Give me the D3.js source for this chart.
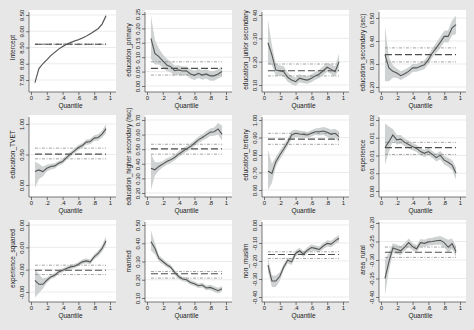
<!DOCTYPE html>
<html><head><meta charset="utf-8">
<script src="https://cdn.jsdelivr.net/npm/d3@7"></script>
<style>body{margin:0;background:#fff}svg{display:block;font-family:"Liberation Sans",Arial,sans-serif}</style>
</head><body><svg id="c" width="474" height="330"></svg>
<script>
// ---------- DATA ----------
const quantiles = [0.05,0.10,0.15,0.20,0.25,0.30,0.35,0.40,0.45,0.50,0.55,0.60,0.65,0.70,0.75,0.80,0.85,0.90,0.95];
const xTicks = [0,0.2,0.4,0.6,0.8,1];
const xTickLabels = ["0",".2",".4",".6",".8","1"];
const variableNames = ["Intercept","education_primary","education_junior secondary","education_secondary (sec)",
  "education_TVET","education_higher secondary (hsc)","education_tertiary","experience",
  "experience_squared","married","non_muslim","area_rural"];

const intercept_coef = [7.42,7.85,8.00,8.12,8.25,8.35,8.45,8.53,8.60,8.65,8.70,8.74,8.79,8.85,8.92,9.00,9.08,9.22,9.48];
const intercept_lo   = [7.38,7.82,7.98,8.10,8.23,8.33,8.43,8.51,8.58,8.63,8.68,8.72,8.77,8.83,8.90,8.98,9.05,9.19,9.43];
const intercept_hi   = [7.46,7.88,8.02,8.14,8.27,8.37,8.47,8.55,8.62,8.67,8.72,8.76,8.81,8.87,8.94,9.02,9.11,9.25,9.53];
const intercept_ols  = [8.60,8.59,8.61];
const intercept_ticks = [7.5,8.0,8.5,9.0,9.5];

const primary_coef = [0.165,0.113,0.102,0.087,0.073,0.067,0.053,0.056,0.052,0.053,0.042,0.037,0.044,0.038,0.042,0.035,0.035,0.042,0.050];
const primary_hi   = [0.245,0.160,0.130,0.110,0.095,0.085,0.070,0.072,0.068,0.068,0.058,0.053,0.060,0.055,0.058,0.052,0.052,0.058,0.068];
const primary_lo   = [0.095,0.075,0.075,0.064,0.052,0.048,0.036,0.040,0.036,0.037,0.026,0.021,0.028,0.022,0.026,0.018,0.018,0.026,0.032];
const primary_ols  = [0.061,0.038,0.084];
const primary_ticks = [0,0.05,0.10,0.15,0.20,0.25];

const junior_coef = [0.281,0.229,0.164,0.161,0.157,0.133,0.121,0.114,0.129,0.124,0.121,0.129,0.139,0.147,0.161,0.176,0.167,0.157,0.200];
const junior_hi   = [0.380,0.270,0.190,0.185,0.180,0.152,0.140,0.132,0.146,0.140,0.138,0.146,0.156,0.165,0.180,0.195,0.188,0.180,0.235];
const junior_lo   = [0.190,0.185,0.140,0.140,0.136,0.114,0.103,0.097,0.112,0.108,0.105,0.112,0.122,0.130,0.142,0.157,0.147,0.135,0.170];
const junior_ols  = [0.161,0.139,0.190];
const junior_ticks = [0.10,0.20,0.30,0.40];

const secondary_coef = [0.341,0.283,0.268,0.261,0.249,0.258,0.268,0.283,0.283,0.290,0.297,0.319,0.348,0.370,0.394,0.420,0.420,0.457,0.471];
const secondary_hi   = [0.464,0.330,0.295,0.280,0.268,0.276,0.286,0.300,0.300,0.308,0.316,0.338,0.368,0.392,0.418,0.445,0.447,0.490,0.510];
const secondary_lo   = [0.225,0.225,0.240,0.240,0.230,0.240,0.250,0.265,0.266,0.272,0.278,0.300,0.328,0.348,0.370,0.395,0.393,0.424,0.430];
const secondary_ols  = [0.341,0.309,0.370];
const secondary_ticks = [0.20,0.30,0.40,0.50];

const tvet_coef = [0.220,0.247,0.220,0.275,0.302,0.313,0.357,0.385,0.450,0.505,0.560,0.615,0.648,0.703,0.714,0.769,0.780,0.835,0.923];
const tvet_hi   = [0.380,0.350,0.300,0.330,0.350,0.355,0.395,0.425,0.490,0.545,0.600,0.655,0.690,0.745,0.760,0.815,0.830,0.890,1.000];
const tvet_lo   = [-0.050,0.100,0.140,0.220,0.255,0.270,0.320,0.345,0.410,0.465,0.520,0.575,0.605,0.660,0.670,0.720,0.730,0.780,0.850];
const tvet_ols  = [0.505,0.429,0.604];
const tvet_ticks = [0,0.5,1.0];

const hsc_coef = [0.370,0.359,0.382,0.398,0.416,0.427,0.443,0.466,0.484,0.502,0.518,0.541,0.564,0.580,0.598,0.616,0.620,0.639,0.602];
const hsc_hi   = [0.470,0.410,0.410,0.420,0.438,0.448,0.463,0.486,0.504,0.522,0.538,0.562,0.585,0.602,0.622,0.642,0.648,0.680,0.660];
const hsc_lo   = [0.220,0.320,0.352,0.376,0.394,0.406,0.423,0.446,0.464,0.482,0.498,0.520,0.543,0.558,0.574,0.590,0.592,0.600,0.560];
const hsc_ols  = [0.502,0.466,0.534];
const hsc_ticks = [0.20,0.30,0.40,0.50,0.60,0.70];

const tertiary_coef = [0.709,0.695,0.762,0.800,0.834,0.872,0.914,0.924,0.920,0.918,0.914,0.924,0.933,0.933,0.937,0.930,0.918,0.924,0.905];
const tertiary_hi   = [0.830,0.750,0.790,0.825,0.858,0.895,0.938,0.945,0.940,0.936,0.932,0.942,0.952,0.954,0.960,0.955,0.945,0.950,0.935];
const tertiary_lo   = [0.600,0.640,0.735,0.775,0.810,0.850,0.890,0.902,0.900,0.900,0.896,0.906,0.914,0.912,0.914,0.905,0.890,0.897,0.875];
const tertiary_ols  = [0.891,0.861,0.924];
const tertiary_ticks = [0.60,0.70,0.80,0.90,1.00];

const experience_coef = [0.0122,0.0139,0.0158,0.0144,0.0146,0.0137,0.0131,0.0125,0.0120,0.0111,0.0106,0.0111,0.0103,0.0094,0.0101,0.0087,0.0081,0.0073,0.0050];
const experience_hi   = [0.0190,0.0182,0.0175,0.0158,0.0158,0.0148,0.0142,0.0135,0.0130,0.0121,0.0116,0.0121,0.0113,0.0105,0.0113,0.0099,0.0094,0.0087,0.0066];
const experience_lo   = [0.0075,0.0110,0.0142,0.0130,0.0134,0.0126,0.0120,0.0115,0.0110,0.0101,0.0096,0.0101,0.0093,0.0083,0.0089,0.0075,0.0068,0.0059,0.0032];
const experience_ols  = [0.0122,0.0103,0.0137];
const experience_ticks = [0,0.005,0.010,0.015,0.020];

const expsq_coef = [-0.000295,-0.000331,-0.000331,-0.000295,-0.000265,-0.000250,-0.000220,-0.000205,-0.000190,-0.000175,-0.000169,-0.000151,-0.000130,-0.000121,-0.000130,-0.000085,-0.000055,-0.000010,0.000059];
const expsq_hi   = [-0.000190,-0.000240,-0.000280,-0.000270,-0.000245,-0.000230,-0.000202,-0.000187,-0.000172,-0.000157,-0.000150,-0.000132,-0.000110,-0.000100,-0.000108,-0.000063,-0.000030,0.000020,0.000100];
const expsq_lo   = [-0.000450,-0.000410,-0.000370,-0.000320,-0.000285,-0.000270,-0.000238,-0.000223,-0.000208,-0.000193,-0.000188,-0.000170,-0.000150,-0.000142,-0.000152,-0.000107,-0.000080,-0.000040,0.000020];
const expsq_ols  = [-0.000205,-0.000244,-0.000160];
const expsq_ticks = [-0.0004,-0.0002,0,0.0002];

const married_coef = [0.409,0.373,0.318,0.300,0.282,0.269,0.240,0.218,0.204,0.200,0.185,0.178,0.167,0.171,0.155,0.158,0.149,0.140,0.151];
const married_hi   = [0.470,0.400,0.335,0.315,0.296,0.282,0.253,0.230,0.216,0.212,0.197,0.190,0.179,0.184,0.168,0.172,0.165,0.156,0.165];
const married_lo   = [0.360,0.340,0.300,0.285,0.268,0.256,0.227,0.206,0.192,0.188,0.173,0.166,0.155,0.158,0.142,0.144,0.133,0.124,0.135];
const married_ols  = [0.233,0.209,0.245];
const married_ticks = [0.10,0.20,0.30,0.40,0.50];

const nonmuslim_coef = [-0.223,-0.311,-0.311,-0.285,-0.233,-0.196,-0.205,-0.158,-0.143,-0.162,-0.140,-0.125,-0.130,-0.136,-0.117,-0.102,-0.106,-0.088,-0.074];
const nonmuslim_hi   = [-0.180,-0.280,-0.280,-0.262,-0.215,-0.180,-0.188,-0.142,-0.127,-0.146,-0.124,-0.109,-0.114,-0.120,-0.100,-0.085,-0.088,-0.070,-0.055];
const nonmuslim_lo   = [-0.260,-0.345,-0.345,-0.310,-0.252,-0.213,-0.222,-0.175,-0.160,-0.178,-0.156,-0.141,-0.146,-0.152,-0.134,-0.120,-0.124,-0.107,-0.095];
const nonmuslim_ols  = [-0.164,-0.186,-0.149];
const nonmuslim_ticks = [-0.40,-0.30,-0.20,-0.10,0];

const rural_coef = [-0.350,-0.305,-0.268,-0.271,-0.275,-0.265,-0.253,-0.264,-0.270,-0.253,-0.255,-0.251,-0.250,-0.248,-0.247,-0.253,-0.265,-0.256,-0.277];
const rural_hi   = [-0.300,-0.280,-0.255,-0.258,-0.263,-0.254,-0.242,-0.254,-0.260,-0.243,-0.245,-0.241,-0.240,-0.237,-0.235,-0.240,-0.245,-0.242,-0.262];
const rural_lo   = [-0.395,-0.330,-0.282,-0.284,-0.287,-0.276,-0.264,-0.274,-0.280,-0.263,-0.265,-0.261,-0.260,-0.259,-0.259,-0.266,-0.280,-0.270,-0.292];
const rural_ols  = [-0.279,-0.293,-0.265];
const rural_ticks = [-0.40,-0.35,-0.30,-0.25,-0.20];

const series = [
  [intercept_coef,intercept_lo,intercept_hi,intercept_ols,intercept_ticks],
  [primary_coef,primary_lo,primary_hi,primary_ols,primary_ticks],
  [junior_coef,junior_lo,junior_hi,junior_ols,junior_ticks],
  [secondary_coef,secondary_lo,secondary_hi,secondary_ols,secondary_ticks],
  [tvet_coef,tvet_lo,tvet_hi,tvet_ols,tvet_ticks],
  [hsc_coef,hsc_lo,hsc_hi,hsc_ols,hsc_ticks],
  [tertiary_coef,tertiary_lo,tertiary_hi,tertiary_ols,tertiary_ticks],
  [experience_coef,experience_lo,experience_hi,experience_ols,experience_ticks],
  [expsq_coef,expsq_lo,expsq_hi,expsq_ols,expsq_ticks],
  [married_coef,married_lo,married_hi,married_ols,married_ticks],
  [nonmuslim_coef,nonmuslim_lo,nonmuslim_hi,nonmuslim_ols,nonmuslim_ticks],
  [rural_coef,rural_lo,rural_hi,rural_ols,rural_ticks]
];

// ---------- LAYOUT ----------
const colX0 = [31,147,264,381];          // pixel of quantile 0
const rowAxisY = [92,197,302];           // pixel of x axis line
const yRangePx = [ // [pixel of lowest tick, pixel of highest tick]
  [80,15],[86,14],[85,15],[87,18],
  [185,124],[193,120],[190,120],[191,120],
  [292,225],[298,225],[297,225],[297,223]
];
const plotW = 79;

const svg = d3.select("#c");
svg.append("rect").attr("width",474).attr("height",330).attr("fill","#e7e7e7");

series.forEach((s,i)=>{
  const [coef,lo,hi,ols,ticks] = s;
  const col = i%4, row = Math.floor(i/4);
  const x0 = colX0[col], axisY = rowAxisY[row];
  const axisX = x0-2;
  const x = d3.scaleLinear().domain([0,1]).range([x0,x0+plotW]);
  const y = d3.scaleLinear().domain([ticks[0],ticks[ticks.length-1]]).range(yRangePx[i]);
  const g = svg.append("g");
  const top = axisY-82;
  g.append("rect").attr("x",axisX).attr("y",top).attr("width",plotW+8).attr("height",axisY-top).attr("fill","#fff");
  // grid
  g.selectAll(".grid").data(ticks).join("line")
    .attr("x1",axisX).attr("x2",axisX+plotW+8)
    .attr("y1",d=>y(d)).attr("y2",d=>y(d))
    .attr("stroke","#e3e3e3").attr("stroke-width",0.7);
  // band
  const data = quantiles.map((q,k)=>({q,c:coef[k],lo:lo[k],hi:hi[k]}));
  g.append("path").datum(data)
    .attr("d",d3.area().x(d=>x(d.q)).y0(d=>y(d.lo)).y1(d=>y(d.hi)))
    .attr("fill","#cfd2d2").attr("stroke","none");
  // OLS lines
  const q0 = quantiles[0], q1 = quantiles[quantiles.length-1];
  [ols[1],ols[2]].forEach(v=>{
    g.append("line").attr("x1",x(q0)).attr("x2",x(q1)).attr("y1",y(v)).attr("y2",y(v))
     .attr("stroke","#8a8a8a").attr("stroke-width",0.8).attr("stroke-dasharray","3,1.5,1,1.5");
  });
  g.append("line").attr("x1",x(q0)).attr("x2",x(q1)).attr("y1",y(ols[0])).attr("y2",y(ols[0]))
   .attr("stroke","#4d4d4d").attr("stroke-width",1.2).attr("stroke-dasharray","7,3");
  // coef line
  g.append("path").datum(data)
    .attr("d",d3.line().x(d=>x(d.q)).y(d=>y(d.c)))
    .attr("fill","none").attr("stroke","#555").attr("stroke-width",1.1);
  // axes
  const fmt = v => v.toFixed(2);
  const ya = d3.axisLeft(y).tickValues(ticks).tickSize(3).tickFormat(fmt);
  const yg = g.append("g").attr("transform",`translate(${axisX},0)`).call(ya);
  yg.select(".domain").attr("d",`M0,${axisY}V${top+2}`).attr("stroke","#444").attr("stroke-width",0.7);
  yg.selectAll(".tick line").attr("stroke","#444").attr("stroke-width",0.7);
  yg.selectAll(".tick text").attr("x",0).attr("dy",0).attr("text-anchor","middle")
    .attr("transform","translate(-5,0) rotate(-90)").attr("y",0)
    .attr("font-size",6).attr("fill","#222").style("font-family","'Liberation Sans',Arial,sans-serif");
  const xa = d3.axisBottom(x).tickValues(xTicks).tickSize(3).tickFormat((d,k)=>xTickLabels[k]);
  const xg = g.append("g").attr("transform",`translate(0,${axisY})`).call(xa);
  xg.select(".domain").attr("d",`M${axisX},0H${axisX+plotW+8}`).attr("stroke","#444").attr("stroke-width",0.7);
  xg.selectAll(".tick line").attr("stroke","#444").attr("stroke-width",0.7);
  xg.selectAll(".tick text").attr("y",3.5).attr("dy","0.71em").attr("font-size",6).attr("fill","#222")
    .style("font-family","'Liberation Sans',Arial,sans-serif");
  g.append("text").attr("x",x(0.5)).attr("y",axisY+15.5).attr("text-anchor","middle")
    .attr("font-size",6.5).attr("fill","#222").text("Quantile");
  g.append("text").attr("transform",`translate(${axisX-14},${(yRangePx[i][0]+yRangePx[i][1])/2}) rotate(-90)`)
    .attr("text-anchor","middle").attr("font-size",6.5).attr("fill","#222").text(variableNames[i]);
});
</script></body></html>
